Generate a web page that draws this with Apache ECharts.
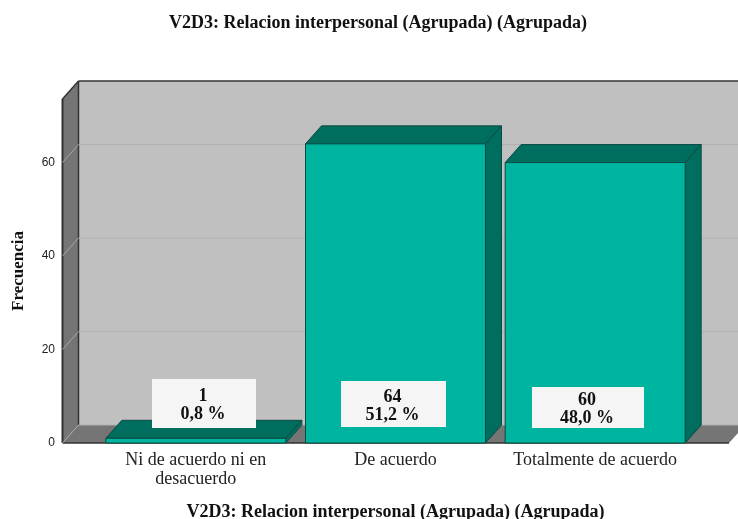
<!DOCTYPE html>
<html>
<head>
<meta charset="utf-8">
<style>
  html, body { margin: 0; padding: 0; background: #fff; }
  #chart { width: 738px; height: 519px; }
</style>
<script src="https://cdn.jsdelivr.net/npm/echarts@6/dist/echarts.min.js"></script>
</head>
<body>
<div id="chart"></div>
<script>
var categories = ["Ni de acuerdo ni en\ndesacuerdo", "De acuerdo", "Totalmente de acuerdo"];
var counts = [1, 64, 60];
var percents = ["0,8 %", "51,2 %", "48,0 %"];
var yTicks = [0, 20, 40, 60];
var titleText = "V2D3: Relacion interpersonal (Agrupada) (Agrupada)";

// label boxes in the picture are not centred on the bars: [left, top, width, height]
var labelBoxes = [
  [152, 379, 104, 49],
  [341, 381, 105, 46],
  [532, 387, 112, 41]
];

var serif = '"Liberation Serif", serif';
var depthX = 16, depthY = 18;
var barWidth = 180;
var lineDark = "#333";

function poly(points, fill, stroke, z2) {
  return {
    type: "polygon",
    z2: z2 || 0,
    shape: { points: points },
    style: { fill: fill, stroke: stroke || null, lineWidth: 1 }
  };
}

function line(x1, y1, x2, y2, color, width) {
  return {
    type: "line",
    shape: { x1: x1, y1: y1, x2: x2, y2: y2 },
    style: { stroke: color, lineWidth: width || 1 }
  };
}

// back wall, left wall and floor
function renderRoom(params, api) {
  var sys = params.coordSys;
  var x0 = 62.5, x1 = x0 + depthX;
  var y0 = api.coord([0, 0])[1];
  var top = sys.y;
  return {
    type: "group",
    children: [
      poly([[x1, top - depthY], [740, top - depthY], [740, y0 - depthY], [x1, y0 - depthY]], "#c0c0c0"),
      poly([[x0, top], [x1, top - depthY], [x1, y0 - depthY], [x0, y0]], "#757575"),
      poly([[x0, y0], [x1, y0 - depthY], [745, y0 - depthY], [729, y0]], "#757575"),
      line(x0, top, x0, y0, lineDark, 2),
      line(x0, top, x1, top - depthY, lineDark, 1.5),
      line(x1, top - depthY, 740, top - depthY, lineDark, 1.5),
      line(x1, top - depthY, x1, y0 - depthY, lineDark, 1.5),
      line(x0, y0, 729, y0, lineDark, 1.5)
    ]
  };
}

function renderGrid(params, api) {
  var y = api.coord([0, api.value(0)])[1];
  return {
    type: "group",
    children: [
      line(62.5, y, 62.5 + depthX, y - depthY, "#a8a8a8"),
      line(62.5 + depthX, y - depthY, 740, y - depthY, "#b0b0b0", 1)
    ]
  };
}

function renderBar(params, api) {
  var base = api.coord([api.value(0), 0]);
  var tip = api.coord([api.value(0), api.value(1)]);
  var l = base[0] - barWidth / 2, r = base[0] + barWidth / 2;
  var b = base[1], t = tip[1];
  var edge = "#0a4a40";
  return {
    type: "group",
    children: [
      poly([[l, t], [l + depthX, t - depthY], [r + depthX, t - depthY], [r, t]], "#006e5f", edge),
      poly([[r, t], [r + depthX, t - depthY], [r + depthX, b - depthY], [r, b]], "#006e5f", edge),
      poly([[l, t], [r, t], [r, b], [l, b]], "#00b5a0", edge)
    ]
  };
}

function renderLabel(params, api) {
  var i = params.dataIndex;
  var box = labelBoxes[i];
  return {
    type: "group",
    children: [
      {
        type: "rect",
        shape: { x: box[0], y: box[1], width: box[2], height: box[3] },
        style: { fill: "#f5f5f5" }
      },
      {
        type: "text",
        style: {
          x: box[0] + box[2] / 2 - 1,
          y: box[1] + box[3] / 2 + 2,
          text: counts[i] + "\n" + percents[i],
          font: "bold 18px " + serif,
          lineHeight: 18,
          fill: "#111",
          align: "center",
          verticalAlign: "middle"
        }
      }
    ]
  };
}

var chart = echarts.init(document.getElementById("chart"), null, { renderer: "canvas" });
chart.setOption({
  animation: false,
  backgroundColor: "#fff",
  title: {
    text: titleText,
    left: 373,
    top: 9,
    textAlign: "center",
    textStyle: { fontFamily: serif, fontWeight: "bold", fontSize: 18, color: "#111" }
  },
  grid: { left: 96, width: 599, top: 99, bottom: 76, outerBoundsMode: "none" },
  xAxis: {
    type: "category",
    data: categories,
    name: titleText,
    nameLocation: "middle",
    nameGap: 60,
    nameTextStyle: { fontFamily: serif, fontWeight: "bold", fontSize: 18, color: "#111" },
    axisLine: { show: false },
    axisTick: { show: false },
    axisLabel: { fontFamily: serif, fontSize: 18, color: "#222", margin: 8, lineHeight: 19, interval: 0 }
  },
  yAxis: {
    type: "value",
    min: 0,
    max: 73.6,
    interval: 20,
    offset: 34,
    name: "Frecuencia",
    nameLocation: "middle",
    nameGap: 35,
    nameRotate: 90,
    nameTextStyle: { fontFamily: serif, fontWeight: "bold", fontSize: 17, color: "#111" },
    axisLine: { show: false },
    axisTick: { show: false },
    splitLine: { show: false },
    axisLabel: { fontFamily: '"Liberation Sans", sans-serif', fontSize: 12, color: "#222", margin: 7, showMaxLabel: false }
  },
  series: [
    { type: "custom", z: 1, silent: true, data: [0], renderItem: renderRoom },
    { type: "custom", z: 2, silent: true, data: yTicks, encode: { y: 0 }, renderItem: renderGrid },
    {
      type: "custom", z: 3, silent: true,
      data: counts.map(function (v, i) { return [i, v]; }),
      encode: { x: 0, y: 1 },
      renderItem: renderBar
    },
    {
      type: "custom", z: 4, silent: true,
      data: counts.map(function (v, i) { return [i, v]; }),
      encode: { x: 0, y: 1 },
      renderItem: renderLabel
    }
  ]
});
</script>
</body>
</html>
